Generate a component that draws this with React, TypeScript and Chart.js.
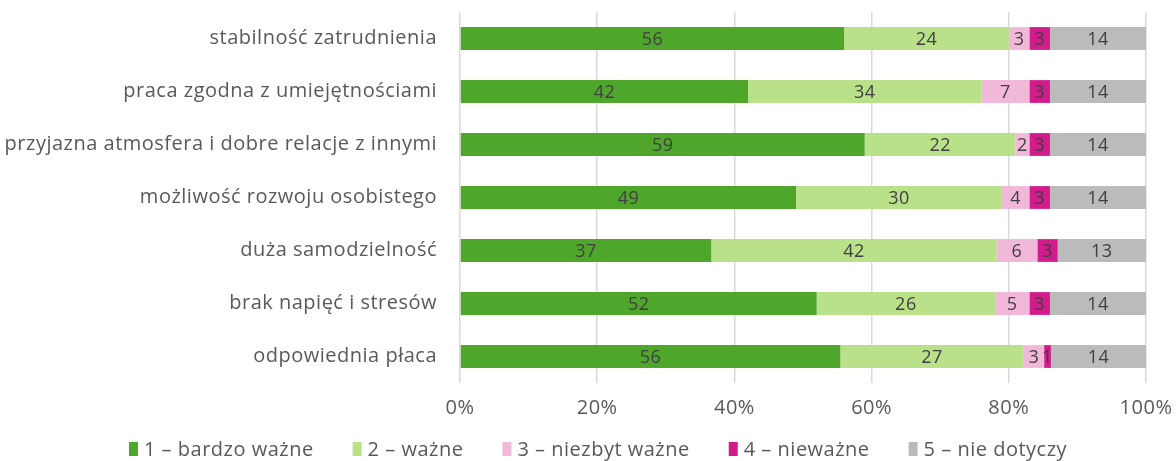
import React, { useEffect, useRef } from "react";
import { Chart, registerables } from "chart.js";

Chart.register(...registerables);

const categories = [
  "stabilność zatrudnienia",
  "praca zgodna z umiejętnościami",
  "przyjazna atmosfera i dobre relacje z innymi",
  "możliwość rozwoju osobistego",
  "duża samodzielność",
  "brak napięć i stresów",
  "odpowiednia płaca",
];

const seriesNames = [
  "1 – bardzo ważne",
  "2 – ważne",
  "3 – niezbyt ważne",
  "4 – nieważne",
  "5 – nie dotyczy",
];

// values as labelled (each row is shown as a 100% stacked bar)
const bardzoWazne = [56, 42, 59, 49, 37, 52, 56];
const wazne = [24, 34, 22, 30, 42, 26, 27];
const niezbytWazne = [3, 7, 2, 4, 6, 5, 3];
const niewazne = [3, 3, 3, 3, 3, 3, 1];
const nieDotyczy = [14, 14, 14, 14, 13, 14, 14];

const xTicks = [0, 20, 40, 60, 80, 100];

const colors = ["#4EA72A", "#B9E18A", "#F2B8DA", "#D21C8C", "#BBBBBB"];

const FONT = "'Open Sans', 'Noto Sans', sans-serif";
const FSIZE = 20;
const LSIZE = 18;
const SPACING = "0.5px";

const allSeries = [bardzoWazne, wazne, niezbytWazne, niewazne, nieDotyczy];
const rowTotals = categories.map((_, i) => allSeries.reduce((s, a) => s + a[i], 0));

const spacingPlugin = {
  id: "spacing",
  beforeUpdate(chart: any) {
    chart.ctx.letterSpacing = SPACING;
  },
  beforeDraw(chart: any) {
    chart.ctx.letterSpacing = SPACING;
  },
};

const barLabels = {
  id: "barLabels",
  afterDatasetsDraw(chart: any) {
    const ctx = chart.ctx;
    ctx.save();
    ctx.letterSpacing = SPACING;
    ctx.font = `${LSIZE}px ${FONT}`;
    ctx.fillStyle = "#404040";
    ctx.textAlign = "center";
    ctx.textBaseline = "middle";
    chart.data.datasets.forEach((ds: any, di: number) => {
      const meta = chart.getDatasetMeta(di);
      meta.data.forEach((el: any, i: number) => {
        const { x, base, y } = el.getProps(["x", "base", "y"], true);
        ctx.fillText(String(allSeries[di][i]), (x + base) / 2, y + 1);
      });
    });
    ctx.restore();
  },
};

const customLegend = {
  id: "customLegend",
  afterDraw(chart: any) {
    const ctx = chart.ctx;
    ctx.save();
    ctx.letterSpacing = SPACING;
    ctx.font = `${FSIZE}px ${FONT}`;
    const boxW = 9;
    const boxH = 14;
    const gap = 6;
    const spacing = 39;
    const widths = seriesNames.map((n) => ctx.measureText(n).width);
    const total =
      widths.reduce((s, w) => s + w + boxW + gap, 0) + spacing * (seriesNames.length - 1);
    let x = 598 - total / 2;
    const cy = 449;
    ctx.textBaseline = "middle";
    ctx.textAlign = "left";
    seriesNames.forEach((n, i) => {
      ctx.fillStyle = colors[i];
      ctx.fillRect(x, cy - boxH / 2, boxW, boxH);
      ctx.fillStyle = "#595959";
      ctx.fillText(n, x + boxW + gap, cy + 1);
      x += boxW + gap + widths[i] + spacing;
    });
    ctx.restore();
  },
};

export default function App() {
  const ref = useRef<HTMLCanvasElement | null>(null);
  useEffect(() => {
    if (!ref.current) return;
    const chart = new Chart(ref.current, {
      type: "bar",
      data: {
        labels: categories,
        datasets: allSeries.map((d, i) => ({
          label: seriesNames[i],
          data: d.map((v, j) => (v / rowTotals[j]) * 100),
          backgroundColor: colors[i],
          borderWidth: 0,
          barPercentage: 0.43,
          categoryPercentage: 1,
        })),
      },
      options: {
        indexAxis: "y",
        animation: false,
        responsive: false,
        maintainAspectRatio: false,
        layout: { padding: { left: 0, right: 30, top: 12, bottom: 40 } },
        scales: {
          x: {
            stacked: true,
            min: 0,
            max: 100,
            afterBuildTicks(scale: any) {
              scale.ticks = xTicks.map((v) => ({ value: v }));
            },
            afterFit(scale: any) {
              scale.height = 38;
              scale.paddingLeft = 0;
              scale.paddingRight = 0;
            },
            ticks: {
              callback: (v: any) => `${v}%`,
              color: "#595959",
              font: { family: FONT, size: FSIZE },
              padding: 13,
            },
            grid: { color: "#D9D9D9", lineWidth: 1.5, drawTicks: false },
            border: { display: false },
          },
          y: {
            stacked: true,
            afterFit(scale: any) {
              scale.width = 460;
              scale.paddingTop = 0;
              scale.paddingBottom = 0;
            },
            ticks: {
              color: "#595959",
              font: { family: FONT, size: FSIZE },
              padding: 23,
            },
            grid: { display: false, drawTicks: false },
            border: { display: false },
          },
        },
        plugins: {
          legend: { display: false },
          tooltip: { enabled: false },
        },
      },
      plugins: [spacingPlugin, barLabels, customLegend],
    });
    return () => chart.destroy();
  }, []);
  return (
    <div style={{ position: "fixed", left: 0, top: 0, width: 1176, height: 461, background: "#fff" }}>
      <canvas ref={ref} width={1176} height={461} style={{ width: 1176, height: 461 }} />
    </div>
  );
}
